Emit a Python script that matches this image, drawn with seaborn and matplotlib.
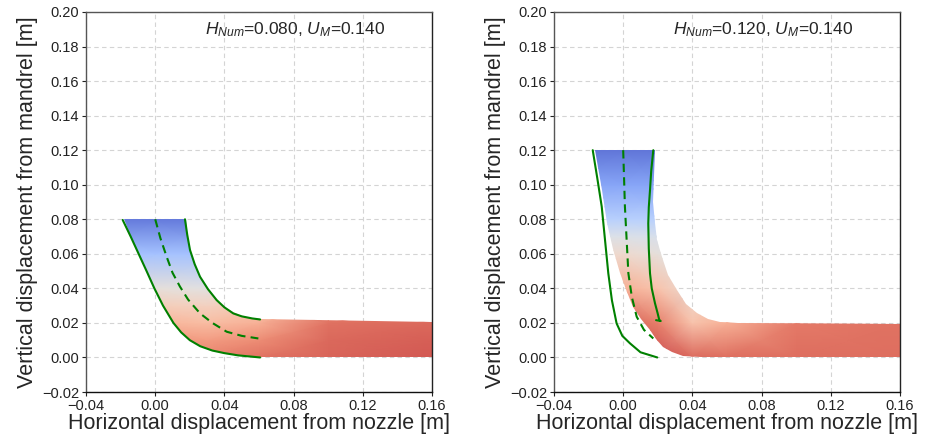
import numpy as np
import matplotlib
matplotlib.use("Agg")
import matplotlib.pyplot as plt
from matplotlib.patches import Polygon
from matplotlib.colors import ListedColormap
import seaborn as sns

sns.set_style("ticks")
plt.rcParams['font.family'] = ['Liberation Sans', 'DejaVu Sans']
plt.rcParams['mathtext.fontset'] = 'custom'
plt.rcParams['mathtext.it'] = 'Liberation Sans:italic'
plt.rcParams['mathtext.rm'] = 'Liberation Sans'

# ---------------- data: left panel (H_Num = 0.080) ----------------
L_outer_x = [-0.0188, -0.0142, -0.0096, -0.0050, -0.0005, 0.0045, 0.0105, 0.0150, 0.0200, 0.0260, 0.0330, 0.0400, 0.0480, 0.0606]
L_outer_y = [0.0796, 0.0700, 0.0600, 0.0500, 0.0400, 0.0300, 0.0200, 0.0145, 0.0100, 0.0065, 0.0040, 0.0025, 0.0012, 0.0000]
L_inner_x = [0.0172, 0.0185, 0.0201, 0.0228, 0.0259, 0.0305, 0.0355, 0.0400, 0.0451, 0.0500, 0.0560, 0.0606]
L_inner_y = [0.0800, 0.0710, 0.0622, 0.0540, 0.0467, 0.0395, 0.0332, 0.0290, 0.0255, 0.0238, 0.0226, 0.0220]
L_mid_x = [0.0000, 0.0030, 0.0066, 0.0100, 0.0143, 0.0190, 0.0259, 0.0330, 0.0413, 0.0500, 0.0596]
L_mid_y = [0.0800, 0.0690, 0.0583, 0.0490, 0.0410, 0.0335, 0.0255, 0.0200, 0.0149, 0.0125, 0.0110]
# deposited cloud outline
L_cloud_x = [-0.0180, -0.0142, -0.0096, -0.0050, -0.0005, 0.0045, 0.0105, 0.0150, 0.0200, 0.0260, 0.0330, 0.0400, 0.0480, 0.0606, 0.1600,
             0.1600, 0.0606, 0.0560, 0.0500, 0.0451, 0.0400, 0.0355, 0.0305, 0.0259, 0.0228, 0.0201, 0.0185, 0.0175]
L_cloud_y = [0.0800, 0.0700, 0.0600, 0.0500, 0.0400, 0.0300, 0.0200, 0.0145, 0.0100, 0.0065, 0.0040, 0.0025, 0.0012, 0.0000, 0.0000,
             0.0207, 0.0222, 0.0229, 0.0242, 0.0262, 0.0295, 0.0337, 0.0400, 0.0470, 0.0540, 0.0622, 0.0710, 0.0800]
# colour level (0 = blue, 1 = red) read on a coarse grid
L_col_x = [-0.03, 0.00, 0.03, 0.06, 0.10, 0.16]
L_col_y = [0.00, 0.01, 0.02, 0.03, 0.04, 0.06, 0.08]
L_col = [[0.86, 0.86, 0.84, 0.88, 0.91, 0.93],
         [0.79, 0.79, 0.78, 0.82, 0.90, 0.92],
         [0.71, 0.71, 0.68, 0.72, 0.88, 0.90],
         [0.62, 0.62, 0.60, 0.64, 0.82, 0.86],
         [0.52, 0.52, 0.50, 0.55, 0.72, 0.80],
         [0.28, 0.28, 0.28, 0.32, 0.50, 0.60],
         [0.06, 0.06, 0.06, 0.10, 0.30, 0.40]]

# ---------------- data: right panel (H_Num = 0.120) ----------------
R_outer_x = [-0.0176, -0.0150, -0.0124, -0.0105, -0.0086, -0.0065, -0.0038, -0.0005, 0.0039, 0.0100, 0.0197]
R_outer_y = [0.1200, 0.1040, 0.0873, 0.0680, 0.0487, 0.0330, 0.0197, 0.0125, 0.0082, 0.0030, 0.0000]
R_inner_x = [0.0174, 0.0162, 0.0155, 0.0148, 0.0145, 0.0148, 0.0155, 0.0165, 0.0184, 0.0198, 0.0209, 0.0217, 0.0190]
R_inner_y = [0.1200, 0.1080, 0.0969, 0.0870, 0.0776, 0.0630, 0.0487, 0.0400, 0.0313, 0.0260, 0.0216, 0.0211, 0.0216]
R_mid_x = [0.0000, 0.0005, 0.0010, 0.0020, 0.0030, 0.0050, 0.0078, 0.0120, 0.0174]
R_mid_y = [0.1200, 0.1040, 0.0873, 0.0680, 0.0487, 0.0350, 0.0236, 0.0160, 0.0110]
R_cloud_x = [-0.0165, -0.0124, -0.0095, -0.0058, -0.0018, 0.0020, 0.0058, 0.0105, 0.0155, 0.0190, 0.0232, 0.0280, 0.0347, 0.0450, 0.1600,
             0.1600, 0.0656, 0.0560, 0.0490, 0.0425, 0.0362, 0.0309, 0.0258, 0.0222, 0.0198, 0.0184, 0.0172, 0.0178, 0.0185]
R_cloud_y = [0.1200, 0.0969, 0.0776, 0.0630, 0.0487, 0.0380, 0.0294, 0.0220, 0.0159, 0.0105, 0.0063, 0.0030, 0.0006, 0.0000, 0.0000,
             0.0195, 0.0197, 0.0207, 0.0225, 0.0255, 0.0310, 0.0390, 0.0480, 0.0583, 0.0680, 0.0776, 0.0900, 0.1050, 0.1200]
R_col_x = [-0.03, 0.00, 0.02, 0.04, 0.06, 0.10, 0.16]
R_col_y = [0.00, 0.02, 0.04, 0.06, 0.07, 0.08, 0.10, 0.12]
R_col = [[0.97, 0.97, 0.95, 0.90, 0.89, 0.89, 0.89],
         [0.92, 0.92, 0.85, 0.66, 0.72, 0.86, 0.88],
         [0.72, 0.72, 0.66, 0.54, 0.60, 0.75, 0.80],
         [0.56, 0.56, 0.52, 0.48, 0.55, 0.65, 0.70],
         [0.48, 0.48, 0.46, 0.44, 0.50, 0.60, 0.65],
         [0.34, 0.34, 0.34, 0.34, 0.40, 0.50, 0.55],
         [0.18, 0.18, 0.18, 0.18, 0.25, 0.35, 0.40],
         [0.05, 0.05, 0.05, 0.05, 0.10, 0.20, 0.25]]

x_ticks = [-0.04, 0.00, 0.04, 0.08, 0.12, 0.16]
y_ticks = [-0.02, 0.00, 0.02, 0.04, 0.06, 0.08, 0.10, 0.12, 0.14, 0.16, 0.18, 0.20]
labels = [r"$H_{Num}$=0.080, $U_{M}$=0.140", r"$H_{Num}$=0.120, $U_{M}$=0.140"]

panels = [
    (L_outer_x, L_outer_y, L_inner_x, L_inner_y, L_mid_x, L_mid_y, L_cloud_x, L_cloud_y, L_col_x, L_col_y, L_col),
    (R_outer_x, R_outer_y, R_inner_x, R_inner_y, R_mid_x, R_mid_y, R_cloud_x, R_cloud_y, R_col_x, R_col_y, R_col),
]

# coolwarm softened by the white gaps between scattered points
base = plt.get_cmap('coolwarm')(np.linspace(0, 1, 256))
soft = base.copy()
soft[:, :3] = 0.87 * base[:, :3] + 0.13
cmap = ListedColormap(soft)

fig = plt.figure(figsize=(9.27, 4.41), dpi=100)
axes = [fig.add_axes([0.0928, 0.1111, 0.3733, 0.8617]),
        fig.add_axes([0.5976, 0.1111, 0.3733, 0.8617])]

for ax, p, lab in zip(axes, panels, labels):
    ox, oy, ix, iy, mx, my, cx, cy, gx, gy, gc = p
    ax.set_axisbelow(True)
    ax.grid(True, linestyle=(0, (4, 3)), color='#d4d4d4', linewidth=0.8)
    poly = Polygon(np.column_stack([cx, cy]), closed=True, facecolor='none', edgecolor='none')
    ax.add_patch(poly)
    X, Y = np.meshgrid(gx, gy)
    mesh = ax.pcolormesh(X, Y, np.array(gc), shading='gouraud', cmap=cmap,
                         vmin=0, vmax=1, zorder=2, antialiased=False)
    mesh.set_clip_path(poly)
    sns.lineplot(x=ox, y=oy, sort=False, estimator=None, color='green', lw=1.5, ax=ax, zorder=3)
    sns.lineplot(x=ix, y=iy, sort=False, estimator=None, color='green', lw=1.5, ax=ax, zorder=3)
    sns.lineplot(x=mx, y=my, sort=False, estimator=None, color='green', lw=1.5, ax=ax, zorder=3,
                 linestyle=(0, (4, 2.5)))
    ax.set_xlim(-0.04, 0.16)
    ax.set_ylim(-0.02, 0.20)
    ax.set_xticks(x_ticks)
    ax.set_yticks(y_ticks)
    ax.set_xticklabels([f"{v:.2f}".replace("-", "\u2212") for v in x_ticks], fontsize=10.5)
    ax.set_yticklabels([f"{v:.2f}".replace("-", "\u2212") for v in y_ticks], fontsize=10.5)
    ax.tick_params(length=3, width=0.8, colors='#222222', pad=2)
    ax.set_xlabel("Horizontal displacement from nozzle [m]", fontsize=15.5, labelpad=0)
    ax.set_ylabel("Vertical displacement from mandrel [m]", fontsize=15.5, labelpad=3)
    for s in ['left', 'top']:
        ax.spines[s].set_color('#555555')
    ax.spines['bottom'].set_color('#111111')
    ax.spines['right'].set_color('#222222')
    for s in ax.spines.values():
        s.set_linewidth(1.0)
    ax.text(0.345, 0.953, lab, transform=ax.transAxes, fontsize=12.5, va='center', ha='left')

fig.savefig("out.png", dpi=100)
